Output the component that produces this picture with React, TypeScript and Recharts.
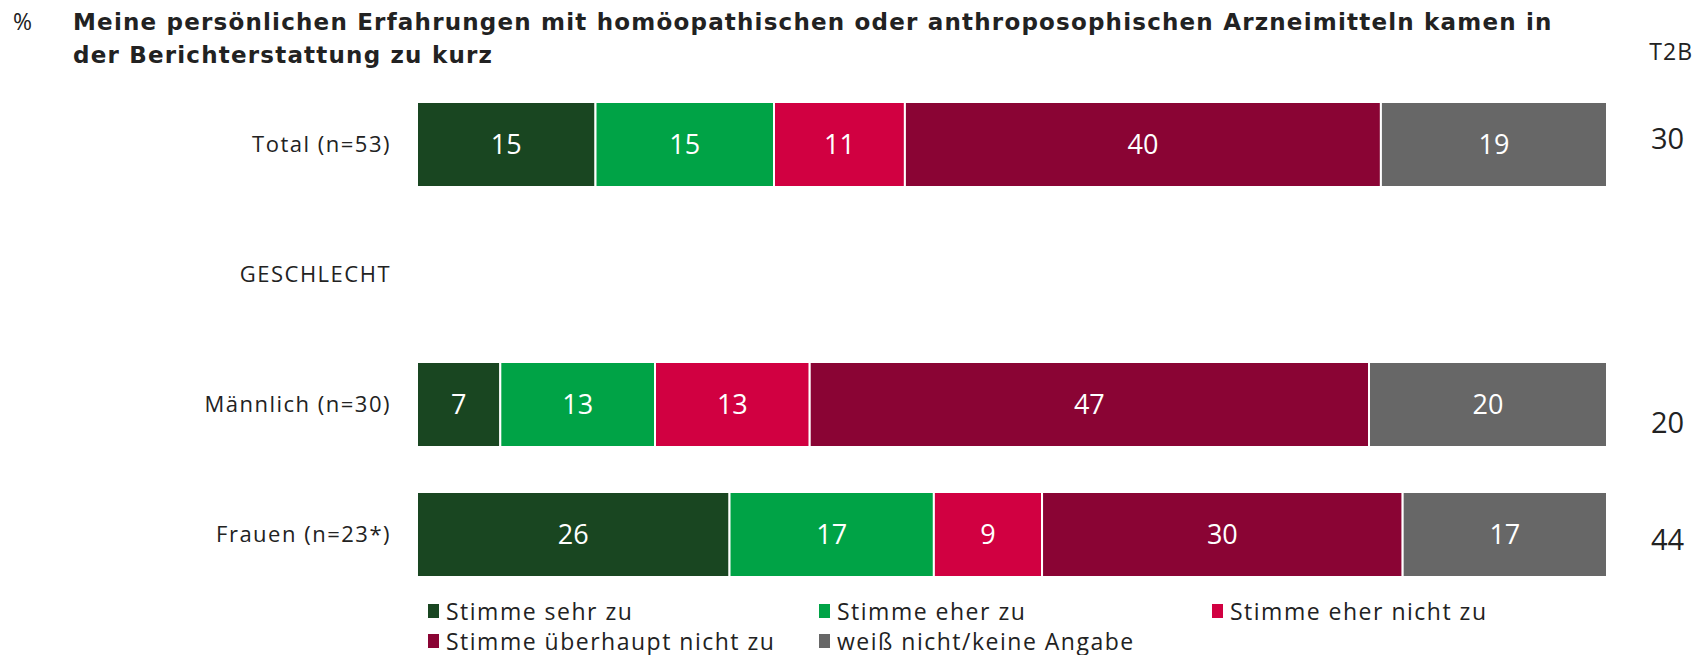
import React from 'react';
import { BarChart, Bar, XAxis, YAxis, LabelList } from 'recharts';

const categories = ['Total (n=53)', 'GESCHLECHT', 'Männlich (n=30)', 'Frauen (n=23*)'];
const sehrZu = [15, null, 7, 26];
const eherZu = [15, null, 13, 17];
const eherNicht = [11, null, 13, 9];
const ueberhauptNicht = [40, null, 47, 30];
const weissNicht = [19, null, 20, 17];
const t2b = [30, null, 20, 44];

const seriesNames = [
    'Stimme sehr zu',
    'Stimme eher zu',
    'Stimme eher nicht zu',
    'Stimme überhaupt nicht zu',
    'weiß nicht/keine Angabe',
];
const seriesKeys = ['sehr', 'eher', 'eherNicht', 'ueberhaupt', 'weiss'];
const seriesColors = ['#194621', '#00A346', '#D10041', '#8A0434', '#676767'];

// the T2B numbers sit a bit off the bar centre in the original slide
const t2bNudge = [-7, 0, 17, 4];

const FONT = '"Open Sans", sans-serif';
const TITLE_FONT = '"DejaVu Sans", sans-serif';

export default function App() {
    const data = categories.map((label, i) => ({
        label,
        sehr: sehrZu[i],
        eher: eherZu[i],
        eherNicht: eherNicht[i],
        ueberhaupt: ueberhauptNicht[i],
        weiss: weissNicht[i],
    }));

    // right-hand axis: shows the T2B value of each row
    const renderT2BTick = (props: any) => {
        const { y, payload } = props;
        const idx = payload.index;
        const v = t2b[idx];
        if (v == null) return <g />;
        return (
            <text
                x={1651}
                y={y + t2bNudge[idx]}
                dominantBaseline="central"
                textAnchor="start"
                fontSize={29}
                fontFamily={FONT}
                fill="#222"
            >
                {v}
            </text>
        );
    };

    return (
        <div style={{ position: 'absolute', left: 0, top: 0, width: 1700, height: 655, background: '#fff', fontFamily: FONT, color: '#222' }}>
            <div style={{ position: 'absolute', left: 13, top: 6, fontSize: 23, lineHeight: '30px' }}>%</div>
            <div
                style={{
                    position: 'absolute',
                    left: 73,
                    top: 6,
                    width: 1600,
                    fontSize: 23,
                    fontWeight: 700,
                    lineHeight: '33px',
                    fontFamily: TITLE_FONT,
                    letterSpacing: 1.2,
                    whiteSpace: 'nowrap',
                }}
            >
                Meine persönlichen Erfahrungen mit homöopathischen oder anthroposophischen Arzneimitteln kamen in
                <br />
                der Berichterstattung zu kurz
            </div>
            <div style={{ position: 'absolute', right: 7, top: 36, fontSize: 23, lineHeight: '30px', letterSpacing: 1 }}>T2B</div>

            <BarChart
                width={1700}
                height={655}
                data={data}
                layout="vertical"
                stackOffset="expand"
                margin={{ top: 79, right: 0, bottom: 56, left: 0 }}
            >
                <XAxis type="number" hide domain={[0, 1]} />
                <YAxis
                    yAxisId="left"
                    type="category"
                    dataKey="label"
                    width={417}
                    axisLine={false}
                    tickLine={false}
                    tickSize={0}
                    tickMargin={26}
                    tick={{ fontSize: 22, fill: '#222', fontFamily: FONT, letterSpacing: 1.5 }}
                />
                <YAxis
                    yAxisId="right"
                    orientation="right"
                    type="category"
                    dataKey="label"
                    width={93}
                    axisLine={false}
                    tickLine={false}
                    tickSize={0}
                    tick={renderT2BTick}
                />
                {seriesKeys.map((key, i) => (
                    <Bar
                        key={key}
                        yAxisId="left"
                        dataKey={key}
                        name={seriesNames[i]}
                        stackId="a"
                        fill={seriesColors[i]}
                        stroke="#ffffff"
                        strokeWidth={2}
                        barSize={85}
                        isAnimationActive={false}
                    >
                        <LabelList
                            dataKey={key}
                            position="center"
                            fill="#ffffff"
                            fontSize={27}
                            fontFamily={FONT}
                            formatter={(v: any) => (v == null ? '' : v)}
                        />
                    </Bar>
                ))}
            </BarChart>

            <div
                style={{
                    position: 'absolute',
                    left: 428,
                    top: 596,
                    display: 'grid',
                    gridTemplateColumns: '391px 393px 391px',
                    fontSize: 23,
                    lineHeight: '30px',
                    letterSpacing: 1.5,
                }}
            >
                {seriesNames.map((name, i) => (
                    <div key={name} style={{ display: 'flex', alignItems: 'center', whiteSpace: 'nowrap' }}>
                        <span style={{ display: 'inline-block', width: 11, height: 14, background: seriesColors[i], marginRight: 7 }} />
                        {name}
                    </div>
                ))}
            </div>
        </div>
    );
}
